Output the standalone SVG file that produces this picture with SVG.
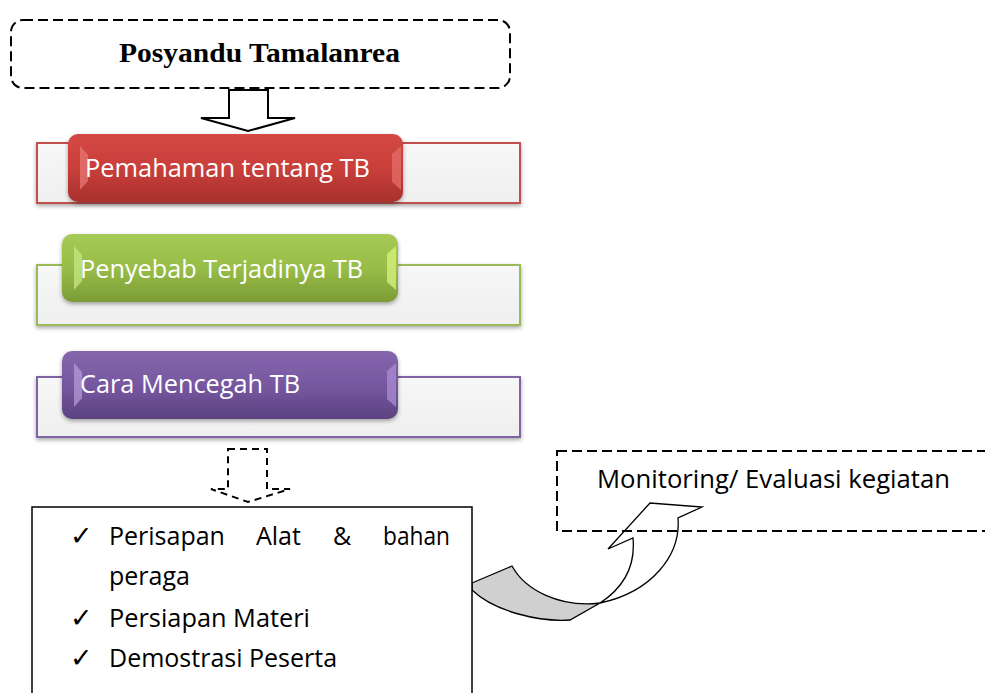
<svg xmlns="http://www.w3.org/2000/svg" width="985" height="693" viewBox="0 0 985 693">
<defs>
<style>
.body{font-family:"Open Sans","Noto Sans",sans-serif;font-size:25px;fill:#000}
.lbl{font-family:"Open Sans","Noto Sans",sans-serif;font-size:25px;fill:#fff}
.chk{font-family:"DejaVu Sans",sans-serif;font-size:27px;font-weight:bold;fill:#000}
.dash{fill:none;stroke:#000;stroke-width:2;stroke-dasharray:10 5}
.bg{stroke-width:2}
</style>
<linearGradient id="bgG" x1="0" y1="0" x2="0" y2="1"><stop offset="0" stop-color="#f7f7f7"/><stop offset="1" stop-color="#efefef"/></linearGradient>
<linearGradient id="redG" x1="0" y1="0" x2="0" y2="1"><stop offset="0" stop-color="#d44844"/><stop offset="0.5" stop-color="#c93f3b"/><stop offset="1" stop-color="#a8302d"/></linearGradient>
<linearGradient id="grnG" x1="0" y1="0" x2="0" y2="1"><stop offset="0" stop-color="#a6ca55"/><stop offset="0.5" stop-color="#98bd48"/><stop offset="1" stop-color="#7c9c36"/></linearGradient>
<linearGradient id="purG" x1="0" y1="0" x2="0" y2="1"><stop offset="0" stop-color="#8566ad"/><stop offset="0.5" stop-color="#7658a0"/><stop offset="1" stop-color="#5c4281"/></linearGradient>
<filter id="sh" x="-5%" y="-10%" width="110%" height="130%"><feDropShadow dx="0" dy="2" stdDeviation="2" flood-color="#000" flood-opacity="0.35"/></filter>
</defs>
<rect width="985" height="693" fill="#fff"/>

<g id="title">
<rect class="dash" x="11" y="20" width="499" height="68" rx="12"/>
<text x="119" y="62" textLength="281" lengthAdjust="spacingAndGlyphs" style="font-family:'Liberation Serif',serif;font-weight:bold;font-size:28px">Posyandu Tamalanrea</text>
</g>

<g id="node-pemahaman">
<rect class="bg" x="37" y="143" width="483" height="60" fill="url(#bgG)" stroke="#c0504d" filter="url(#sh)"/>
<rect x="68" y="134" width="335" height="68" rx="10" fill="url(#redG)" filter="url(#sh)"/>
<polygon points="80,146 88,155 88,181 80,190" fill="#e87a77" opacity="0.7"/>
<polygon points="401,146 392,154 392,182 401,190" fill="#e26a66" opacity="0.8"/>
<text class="lbl" x="85" y="177" textLength="285" lengthAdjust="spacingAndGlyphs">Pemahaman tentang TB</text>
</g>

<g id="node-penyebab">
<rect class="bg" x="37" y="265" width="483" height="60" fill="url(#bgG)" stroke="#9bbb59" filter="url(#sh)"/>
<rect x="62" y="234" width="336" height="68" rx="10" fill="url(#grnG)" filter="url(#sh)"/>
<polygon points="74,246 82,255 82,281 74,290" fill="#cde889" opacity="0.7"/>
<polygon points="396,246 387,254 387,282 396,290" fill="#d4f07a" opacity="0.8"/>
<text class="lbl" x="80" y="278" textLength="283" lengthAdjust="spacingAndGlyphs">Penyebab Terjadinya TB</text>
</g>

<g id="node-cara">
<rect class="bg" x="37" y="377" width="483" height="60" fill="url(#bgG)" stroke="#8064a2" filter="url(#sh)"/>
<rect x="62" y="351" width="336" height="68" rx="10" fill="url(#purG)" filter="url(#sh)"/>
<polygon points="74,363 82,372 82,398 74,407" fill="#b7a0d8" opacity="0.7"/>
<polygon points="396,363 387,371 387,399 396,407" fill="#a88ad0" opacity="0.8"/>
<text class="lbl" x="80" y="393" textLength="220" lengthAdjust="spacingAndGlyphs">Cara Mencegah TB</text>
</g>

<g id="connectors">
<polygon points="229,90 268,90 268,118 295,118 248,131 201,118 229,118" fill="#fff" stroke="#000" stroke-width="2" stroke-linejoin="miter"/>
<polygon points="228,449 267,449 267,489 290,489 248,502 211,489 228,489" fill="#fff" stroke="#000" stroke-width="2" stroke-dasharray="7 5"/>
<path d="M472,583 L512,566 C525,590 560,608 600,603 L570,620 C540,622 495,612 472,590 Z" fill="#d0d0d0" stroke="#000" stroke-width="1.3"/>
<path d="M600,603 C620,590 636,570 633,538 L608,549 L650,503 L702,507 L678,518 C681,555 652,592 600,603 Z" fill="#fff" stroke="#000" stroke-width="1.3"/>
</g>

<g id="node-kegiatan">
<rect x="32" y="507" width="440" height="200" fill="#fff" stroke="#000" stroke-width="1.5"/>
<text class="chk" x="70" y="545">✓</text>
<text class="body" x="109" y="545">Perisapan</text>
<text class="body" x="256" y="545">Alat</text>
<text class="body" x="333" y="545">&amp;</text>
<text class="body" x="383" y="545" textLength="67" lengthAdjust="spacingAndGlyphs">bahan</text>
<text class="body" x="109" y="585">peraga</text>
<text class="chk" x="70" y="627">✓</text>
<text class="body" x="109" y="627" textLength="201" lengthAdjust="spacingAndGlyphs">Persiapan Materi</text>
<text class="chk" x="70" y="667">✓</text>
<text class="body" x="109" y="667">Demostrasi Peserta</text>
</g>

<g id="node-monitoring">
<rect class="dash" x="557" y="451" width="440" height="80"/>
<text class="body" x="597" y="488" textLength="353" lengthAdjust="spacingAndGlyphs">Monitoring/ Evaluasi kegiatan</text>
</g>
</svg>
